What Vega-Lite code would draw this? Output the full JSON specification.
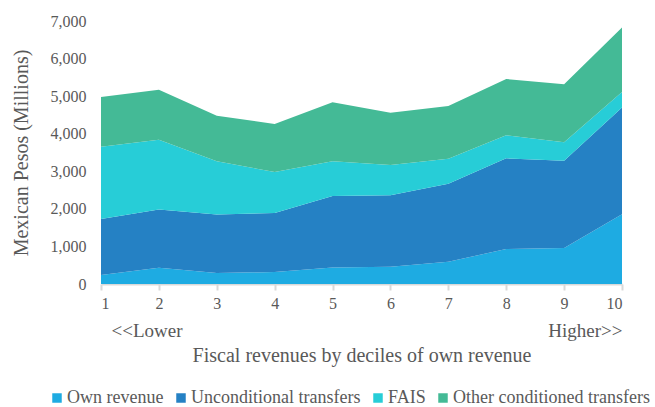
{
  "$schema": "https://vega.github.io/schema/vega-lite/v6.json",
  "width": 521,
  "height": 263,
  "padding": {"left": 11, "top": 13, "right": 0, "bottom": 0},
  "background": "white",
  "config": {
    "view": {"stroke": null},
    "font": "Liberation Serif",
    "style": {
      "guide-label": {"font": "Liberation Serif", "fill": "#595959"},
      "guide-title": {"font": "Liberation Serif", "fill": "#595959"}
    },
    "axis": {"labelFont": "Liberation Serif", "titleFont": "Liberation Serif", "labelColor": "#595959", "titleColor": "#595959", "titleFontWeight": "normal", "grid": false},
    "legend": {"labelFont": "Liberation Serif", "labelColor": "#595959"}
  },
  "data": {"values": [
    {"decile": 1, "source": "Own revenue", "value": 240},
    {"decile": 1, "source": "Unconditional transfers", "value": 1490},
    {"decile": 1, "source": "FAIS", "value": 1920},
    {"decile": 1, "source": "Other conditioned transfers", "value": 1330},
    {"decile": 2, "source": "Own revenue", "value": 430},
    {"decile": 2, "source": "Unconditional transfers", "value": 1550},
    {"decile": 2, "source": "FAIS", "value": 1860},
    {"decile": 2, "source": "Other conditioned transfers", "value": 1330},
    {"decile": 3, "source": "Own revenue", "value": 290},
    {"decile": 3, "source": "Unconditional transfers", "value": 1560},
    {"decile": 3, "source": "FAIS", "value": 1420},
    {"decile": 3, "source": "Other conditioned transfers", "value": 1210},
    {"decile": 4, "source": "Own revenue", "value": 320},
    {"decile": 4, "source": "Unconditional transfers", "value": 1570},
    {"decile": 4, "source": "FAIS", "value": 1090},
    {"decile": 4, "source": "Other conditioned transfers", "value": 1280},
    {"decile": 5, "source": "Own revenue", "value": 440},
    {"decile": 5, "source": "Unconditional transfers", "value": 1900},
    {"decile": 5, "source": "FAIS", "value": 925},
    {"decile": 5, "source": "Other conditioned transfers", "value": 1575},
    {"decile": 6, "source": "Own revenue", "value": 460},
    {"decile": 6, "source": "Unconditional transfers", "value": 1900},
    {"decile": 6, "source": "FAIS", "value": 810},
    {"decile": 6, "source": "Other conditioned transfers", "value": 1390},
    {"decile": 7, "source": "Own revenue", "value": 594},
    {"decile": 7, "source": "Unconditional transfers", "value": 2076},
    {"decile": 7, "source": "FAIS", "value": 665},
    {"decile": 7, "source": "Other conditioned transfers", "value": 1405},
    {"decile": 8, "source": "Own revenue", "value": 930},
    {"decile": 8, "source": "Unconditional transfers", "value": 2415},
    {"decile": 8, "source": "FAIS", "value": 615},
    {"decile": 8, "source": "Other conditioned transfers", "value": 1496},
    {"decile": 9, "source": "Own revenue", "value": 958},
    {"decile": 9, "source": "Unconditional transfers", "value": 2324},
    {"decile": 9, "source": "FAIS", "value": 488},
    {"decile": 9, "source": "Other conditioned transfers", "value": 1545},
    {"decile": 10, "source": "Own revenue", "value": 1855},
    {"decile": 10, "source": "Unconditional transfers", "value": 2845},
    {"decile": 10, "source": "FAIS", "value": 410},
    {"decile": 10, "source": "Other conditioned transfers", "value": 1720}
  ]},
  "layer": [
    {
      "transform": [
        {"calculate": "indexof(['Own revenue', 'Unconditional transfers', 'FAIS', 'Other conditioned transfers'], datum.source)", "as": "stackOrder"}
      ],
      "mark": {"type": "area"},
      "encoding": {
        "x": {
          "field": "decile", "type": "quantitative",
          "scale": {"domain": [1, 10], "nice": false, "zero": false},
          "axis": {
            "orient": "bottom", "values": [1,2,3,4,5,6,7,8,9,10], "title": null,
            "labelFont": "Liberation Serif", "labelFontSize": 16, "labelPadding": 5,
            "domainColor": "#D9D9D9", "domainWidth": 2,
            "tickColor": "#D9D9D9", "tickWidth": 2, "tickSize": 6
          }
        },
        "y": {
          "field": "value", "type": "quantitative", "stack": "zero",
          "scale": {"domain": [0, 7000], "nice": false},
          "axis": {
            "values": [0,1000,2000,3000,4000,5000,6000,7000], "format": ",.0f",
            "title": "Mexican Pesos (Millions)", "titleFontSize": 20, "titlePadding": 19,
            "labelFont": "Liberation Serif", "labelFontSize": 16, "labelPadding": 15,
            "domain": false, "ticks": false
          }
        },
        "order": {"field": "stackOrder", "type": "quantitative"},
        "color": {
          "field": "source", "type": "nominal",
          "sort": ["Own revenue", "Unconditional transfers", "FAIS", "Other conditioned transfers"],
          "scale": {
            "domain": ["Own revenue", "Unconditional transfers", "FAIS", "Other conditioned transfers"],
            "range": ["#1EABE2", "#2581C4", "#27CDD7", "#44BA96"]
          },
          "legend": {
            "orient": "none", "legendX": -53, "legendY": 368,
            "direction": "horizontal", "title": null,
            "symbolType": "square", "symbolSize": 90, "symbolStrokeWidth": 0,
            "labelFont": "Liberation Serif", "labelColor": "#595959",
            "labelFontSize": 18, "labelLimit": 400, "columnPadding": 8, "labelOffset": 1
          }
        }
      }
    },
    {
      "mark": {"type": "point", "opacity": 0},
      "encoding": {
        "x": {
          "field": "decile", "type": "quantitative",
          "scale": {"domain": [1, 10], "nice": false, "zero": false},
          "axis": {
            "orient": "bottom", "values": [1, 10], "offset": 33,
            "labelExpr": "datum.value == 1 ? '<<Lower' : 'Higher>>'",
            "labelFlush": true, "labelOffset": {"condition": {"test": "datum.value == 1", "value": 10}, "value": 0},
            "labelFont": "Liberation Serif", "labelFontSize": 19, "labelPadding": 4,
            "domain": false, "ticks": false,
            "title": "Fiscal revenues by deciles of own revenue",
            "titleFontSize": 20, "titlePadding": 5
          }
        }
      }
    }
  ],
  "resolve": {"scale": {"x": "independent"}, "axis": {"x": "independent"}}
}
